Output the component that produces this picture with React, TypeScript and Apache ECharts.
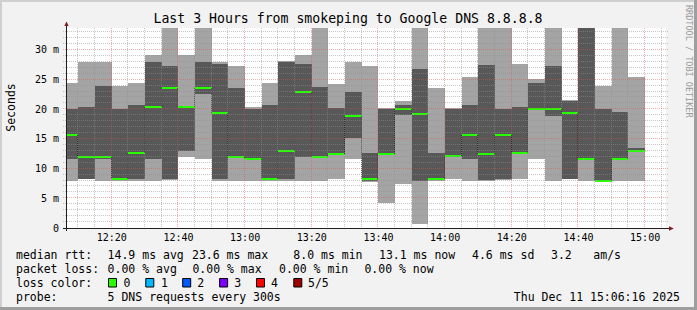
import React, { useEffect, useRef } from "react";
import * as echarts from "echarts";

// ---- data (ms), one entry per 5-minute bin, labelled by bin end ----
const binEnds = [
  "12:10", "12:15", "12:20", "12:25", "12:30", "12:35", "12:40", "12:45", "12:50", "12:55",
  "13:00", "13:05", "13:10", "13:15", "13:20", "13:25", "13:30", "13:35", "13:40", "13:45",
  "13:50", "13:55", "14:00", "14:05", "14:10", "14:15", "14:20", "14:25", "14:30", "14:35",
  "14:40", "14:45", "14:50", "14:55", "15:00",
];
const pingMin = [
  8.0, 8.2, 8.0, 8.0, 8.0, 8.0, 8.1, 12.0, 11.7, 8.0,
  8.0, 8.0, 8.0, 8.0, 8.0, 8.0, 8.3, 11.7, 7.8, 4.2,
  7.4, 0.6, 8.0, 8.3, 8.0, 8.0, 8.1, 8.3, 11.7, 8.0,
  8.2, 8.0, 7.9, 8.0, 8.0,
];
const ping2 = [
  11.7, 8.3, 11.7, 8.1, 8.3, 11.7, 8.3, 13.0, 22.6, 8.3,
  11.9, 11.5, 8.1, 8.3, 12.0, 11.9, 12.4, 15.2, 8.0, 12.4,
  19.1, 8.0, 8.1, 12.0, 11.7, 8.1, 8.3, 12.6, 20.0, 18.9,
  8.3, 11.6, 8.0, 11.6, 12.9,
];
const medianRtt = [
  15.7, 12.0, 12.0, 8.3, 12.7, 20.4, 23.6, 20.4, 23.6, 19.3,
  12.0, 11.7, 8.3, 13.0, 22.9, 12.0, 12.5, 18.9, 8.2, 12.5,
  20.1, 19.2, 8.3, 12.1, 15.7, 12.4, 15.7, 12.7, 20.1, 20.1,
  19.3, 11.7, 8.0, 11.7, 13.0,
];
const ping4 = [
  20.1, 20.4, 23.9, 20.1, 20.8, 28.0, 27.3, 20.5, 28.0, 27.6,
  23.6, 20.1, 20.8, 28.0, 27.6, 23.8, 20.2, 22.9, 12.7, 20.1,
  20.8, 26.8, 12.7, 20.1, 20.8, 27.5, 20.1, 20.4, 24.4, 27.3,
  21.4, 35.0, 20.1, 19.6, 13.4,
];
const pingMax = [
  24.4, 28.0, 28.0, 24.0, 24.4, 29.2, 35.0, 29.2, 35.0, 28.0,
  27.3, 20.4, 24.4, 28.1, 29.2, 35.0, 24.3, 28.0, 27.3, 20.2,
  21.4, 35.0, 23.6, 20.2, 25.4, 35.0, 35.0, 27.6, 25.1, 35.0,
  21.5, 36.0, 23.9, 35.0, 25.4,
];
const stepMinutes = 5;

// ---- axes / ticks ----
const viewStart = "12:06:16";
const viewEnd = "15:06:16";
const yMax = 33.7;
const xMajorTicks = ["12:20", "12:40", "13:00", "13:20", "13:40", "14:00", "14:20", "14:40", "15:00"];
const xMinorTicks = [
  "12:10", "12:15", "12:25", "12:30", "12:35", "12:45", "12:50", "12:55", "13:05", "13:10",
  "13:15", "13:25", "13:30", "13:35", "13:45", "13:50", "13:55", "14:05", "14:10", "14:15",
  "14:25", "14:30", "14:35", "14:45", "14:50", "14:55", "15:05",
];
const yMajorTicks = [5, 10, 15, 20, 25, 30];
const yMinorTicks = [1, 2, 3, 4, 6, 7, 8, 9, 11, 12, 13, 14, 16, 17, 18, 19, 21, 22, 23, 24, 26, 27, 28, 29, 31, 32, 33];

// ---- texts ----
const titleText = "Last 3 Hours from smokeping to Google DNS 8.8.8.8";
const yAxisName = "Seconds";
const watermark = "RRDTOOL / TOBI OETIKER";
const rttLine: [string, number][] = [
  ["median rtt:", 16], ["14.9 ms avg", 107.6], ["23.6 ms max", 192], ["8.0 ms min", 293.3],
  ["13.1 ms now", 379], ["4.6 ms sd", 472], ["3.2", 551], ["am/s", 593.3],
];
const lossLine: [string, number][] = [
  ["packet loss:", 16], ["0.00 % avg", 107.6], ["0.00 % max", 192.4], ["0.00 % min", 279], ["0.00 % now", 364.4],
];
const lossColorLabels = ["0", "1", "2", "3", "4", "5/5"];
const lossColors = ["#26ff00", "#00b8ff", "#0059ff", "#7e00ff", "#ff0000", "#a10000"];
const probeLine: [string, number][] = [["probe:", 16], ["5 DNS requests every 300s", 107.6]];
const dateText = "Thu Dec 11 15:06:16 2025";

const FONT = "'DejaVu Sans Mono', monospace";

const toMin = (s: string) => {
  const [h, m, sec] = s.split(":").map(Number);
  return h * 60 + m + (sec || 0) / 60;
};
const fmtTime = (v: number) => {
  const t = Math.round(v);
  return `${Math.floor(t / 60)}:${String(t % 60).padStart(2, "0")}`;
};

const GRID_LEFT = 66;
const GRID_TOP = 28;
const GRID_W = 600;
const GRID_H = 200;

export default function App() {
  const ref = useRef<HTMLDivElement>(null);
  useEffect(() => {
    document.body.style.margin = "0";
    if (!ref.current) return;
    const chart = echarts.init(ref.current, undefined, { renderer: "svg" });

    const smokeData = binEnds.map((t, i) => [
      toMin(t) - stepMinutes, toMin(t), pingMin[i], ping2[i], medianRtt[i], ping4[i], pingMax[i],
    ]);
    const medianData = binEnds.map((t, i) => [
      toMin(t) - stepMinutes, toMin(t), medianRtt[i], i > 0 ? medianRtt[i - 1] : medianRtt[i],
    ]);
    const gridXData = [
      ...xMinorTicks.map((t) => [toMin(t), 0]),
      ...xMajorTicks.map((t) => [toMin(t), 1]),
    ];
    const gridYData = [
      ...yMinorTicks.map((v) => [toMin(viewStart), v, 0]),
      ...yMajorTicks.map((v) => [toMin(viewStart), v, 1]),
    ];
    const minorColor = "rgba(143,143,143,0.5)";
    const majorColor = "rgba(222,79,79,0.45)";

    const textEl = (text: string, x: number, y: number, extra: any = {}) => ({
      type: "text",
      x,
      y,
      silent: true,
      style: {
        text,
        fill: "#000",
        font: `11.5px ${FONT}`,
        textAlign: "left",
        textVerticalAlign: "middle",
        ...extra,
      },
    });

    const rows = [254.5, 268.5, 282.5, 296.5];
    const boxX = [108, 145.3, 182.2, 219.1, 256, 293.3];
    const labelX = [123.5, 161, 197.3, 234.2, 271, 308];

    const graphic: any[] = [
      // frame
      { type: "rect", shape: { x: 0, y: 0, width: 697, height: 2 }, style: { fill: "#cfcfcf" }, silent: true },
      { type: "rect", shape: { x: 0, y: 0, width: 2, height: 310 }, style: { fill: "#cfcfcf" }, silent: true },
      { type: "rect", shape: { x: 694, y: 0, width: 3, height: 310 }, style: { fill: "#9e9e9e" }, silent: true },
      { type: "rect", shape: { x: 0, y: 307, width: 697, height: 3 }, style: { fill: "#9e9e9e" }, silent: true },
      // axes
      { type: "line", z: 10, shape: { x1: 66.5, y1: 25, x2: 66.5, y2: 231 }, style: { stroke: "#1f1f1f", lineWidth: 1 }, silent: true },
      { type: "line", z: 10, shape: { x1: 63, y1: 228.5, x2: 670, y2: 228.5 }, style: { stroke: "#1f1f1f", lineWidth: 1 }, silent: true },
      { type: "polygon", z: 10, shape: { points: [[64.3, 26], [68.7, 26], [66.5, 21.5]] }, style: { fill: "#801f1f" }, silent: true },
      { type: "polygon", z: 10, shape: { points: [[669, 226.2], [669, 230.8], [673.8, 228.5]] }, style: { fill: "#801f1f" }, silent: true },
      // title & names
      textEl(titleText, 348, 18.5, { font: `13.2px ${FONT}`, textAlign: "center" }),
      { ...textEl(yAxisName, 11, 107.5, { textAlign: "center" }), rotation: Math.PI / 2 },
      { ...textEl(watermark, 688.5, 5, { font: `8.5px ${FONT}`, fill: "#999999" }), rotation: -Math.PI / 2 },
    ];
    rttLine.forEach(([t, x]) => graphic.push(textEl(t, x, rows[0])));
    lossLine.forEach(([t, x]) => graphic.push(textEl(t, x, rows[1])));
    graphic.push(textEl("loss color:", 16, rows[2]));
    lossColorLabels.forEach((t, i) => {
      graphic.push({
        type: "rect",
        shape: { x: boxX[i] + 0.5, y: 278.5, width: 8, height: 8.5 },
        style: { fill: lossColors[i], stroke: "#000", lineWidth: 1 },
        silent: true,
      });
      graphic.push(textEl(t, labelX[i], rows[2]));
    });
    probeLine.forEach(([t, x]) => graphic.push(textEl(t, x, rows[3])));
    graphic.push(textEl(dateText, 680, rows[3], { textAlign: "right" }));

    chart.setOption({
      animation: false,
      backgroundColor: "#f2f2f2",
      grid: {
        left: GRID_LEFT,
        top: GRID_TOP,
        width: GRID_W,
        height: GRID_H,
        show: true,
        backgroundColor: "#ffffff",
        borderWidth: 0,
      },
      xAxis: {
        type: "value",
        min: toMin(viewStart),
        max: toMin(viewEnd),
        axisLine: { show: false },
        axisTick: { show: false },
        splitLine: { show: false },
        axisLabel: {
          customValues: xMajorTicks.map(toMin),
          formatter: (v: number) => fmtTime(v),
          margin: 4,
          color: "#000",
          fontFamily: FONT,
          fontSize: 10,
        },
      },
      yAxis: {
        type: "value",
        min: 0,
        max: yMax,
        interval: 5,
        axisLine: { show: false },
        axisTick: { show: false },
        splitLine: { show: false },
        axisLabel: {
          formatter: (v: number) => (v === 0 ? "0" : Math.abs(v % 5) < 1e-9 ? `${v} m` : ""),
          margin: 7,
          color: "#000",
          fontFamily: FONT,
          fontSize: 10,
          showMaxLabel: false,
        },
      },
      graphic,
      series: [
        {
          type: "custom",
          name: "smoke",
          z: 2,
          clip: true,
          silent: true,
          data: smokeData,
          renderItem: (params: any, api: any) => {
            const s = api.value(0);
            const e = api.value(1);
            const xl = Math.round(api.coord([s, 0])[0]);
            const xr = Math.round(api.coord([e, 0])[0]);
            const y = (v: number) => Math.round(api.coord([s, v])[1]);
            const p1 = y(api.value(2));
            const p2 = y(api.value(3));
            const p4 = y(api.value(5));
            const p5 = y(api.value(6));
            return {
              type: "group",
              children: [
                { type: "rect", shape: { x: xl, y: p5, width: xr - xl, height: p1 - p5 }, style: { fill: "#a4a4a4" } },
                { type: "rect", shape: { x: xl, y: p4, width: xr - xl, height: p2 - p4 }, style: { fill: "#585858" } },
              ],
            };
          },
        },
        {
          type: "custom",
          name: "median",
          z: 3,
          clip: true,
          silent: true,
          data: medianData,
          renderItem: (params: any, api: any) => {
            const s = api.value(0);
            const e = api.value(1);
            const xl = Math.round(api.coord([s, 0])[0]);
            const xr = Math.round(api.coord([e, 0])[0]);
            const ym = api.coord([s, api.value(2)])[1];
            const yp = api.coord([s, api.value(3)])[1];
            const children: any[] = [];
            if (Math.abs(ym - yp) > 0.5) {
              children.push({
                type: "line",
                shape: { x1: xl - 0.5, y1: yp, x2: xl - 0.5, y2: ym },
                style: { stroke: "#202020", lineWidth: 1, lineDash: [1, 1] },
              });
            }
            children.push({
              type: "rect",
              shape: { x: xl, y: Math.round(ym) - 1, width: xr - xl, height: 2 },
              style: { fill: "#26ff00" },
            });
            return { type: "group", children };
          },
        },
        {
          type: "custom",
          name: "gridX",
          z: 4,
          clip: false,
          silent: true,
          data: gridXData,
          renderItem: (params: any, api: any) => {
            const cs = params.coordSys;
            const x = Math.round(api.coord([api.value(0), 0])[0]) - 0.5;
            const major = api.value(1) === 1;
            return {
              type: "line",
              shape: { x1: x, y1: cs.y, x2: x, y2: cs.y + cs.height + 2 },
              style: { stroke: major ? majorColor : minorColor, lineWidth: 1, lineDash: [1, 1] },
            };
          },
        },
        {
          type: "custom",
          name: "gridY",
          z: 4,
          clip: false,
          silent: true,
          data: gridYData,
          renderItem: (params: any, api: any) => {
            const cs = params.coordSys;
            const y = Math.round(api.coord([api.value(0), api.value(1)])[1]) - 0.5;
            const major = api.value(2) === 1;
            return {
              type: "line",
              shape: { x1: cs.x - 3, y1: y, x2: cs.x + cs.width + 2, y2: y },
              style: { stroke: major ? majorColor : minorColor, lineWidth: 1, lineDash: [1, 1] },
            };
          },
        },
      ],
    });
    return () => chart.dispose();
  }, []);
  return <div ref={ref} style={{ width: 697, height: 310 }} />;
}
